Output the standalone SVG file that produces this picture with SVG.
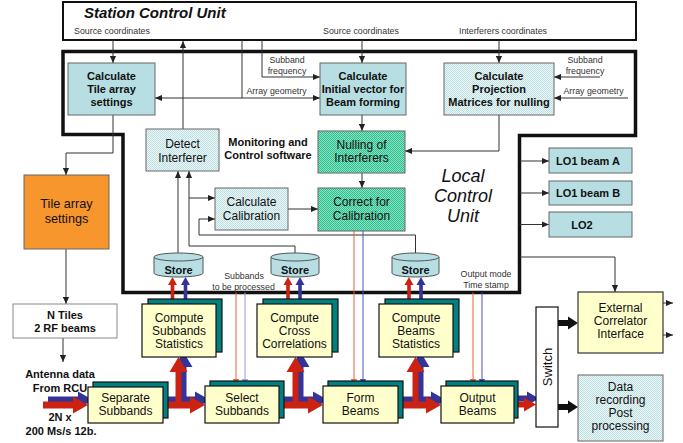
<svg xmlns="http://www.w3.org/2000/svg" xmlns:xlink="http://www.w3.org/1999/xlink" width="683" height="443" viewBox="0 0 683 443">
<style>
text{font-family:"Liberation Sans",Arial,sans-serif;fill:#111}
.b{font-size:11px;font-weight:bold;text-anchor:middle}
.r{font-size:12px;text-anchor:middle}
.s{font-size:8.8px;fill:#333;text-anchor:middle}
.ln{fill:none;stroke:#333;stroke-width:1}
.plain{fill:#b7dee2;stroke:#666;stroke-width:1}
.tex{fill:url(#tx);stroke:#666;stroke-width:1}
.grn{fill:url(#gx);stroke:#666;stroke-width:1}
.front{fill:#ffffcc;stroke:#111;stroke-width:1.2}
.back{fill:#008080;stroke:#111;stroke-width:1.2}
</style>
<defs>
<pattern id="tx" width="2" height="2" patternUnits="userSpaceOnUse"><rect width="2" height="2" fill="#eef7f8"/><rect width="1" height="1" fill="#bcdfe2"/><rect x="1" y="1" width="1" height="1" fill="#bcdfe2"/></pattern>
<pattern id="gx" width="2" height="2" patternUnits="userSpaceOnUse"><rect width="2" height="2" fill="#8ee2c4"/><rect width="1" height="1" fill="#2cbf8e"/><rect x="1" y="1" width="1" height="1" fill="#2cbf8e"/></pattern>
<marker id="ah" viewBox="0 0 8 8" refX="8" refY="4" markerWidth="7" markerHeight="7" markerUnits="userSpaceOnUse" orient="auto-start-reverse"><path d="M0,0.5 L8,4 L0,7.5z" fill="#222"/></marker>
<marker id="ahr" viewBox="0 0 8 8" refX="8" refY="4" markerWidth="7" markerHeight="7" markerUnits="userSpaceOnUse" orient="auto"><path d="M0,0.5 L8,4 L0,7.5z" fill="#f0603c"/></marker>
<marker id="ahb" viewBox="0 0 8 8" refX="8" refY="4" markerWidth="7" markerHeight="7" markerUnits="userSpaceOnUse" orient="auto"><path d="M0,0.5 L8,4 L0,7.5z" fill="#5050c0"/></marker>
<marker id="ahl" viewBox="0 0 8 8" refX="8" refY="4" markerWidth="7" markerHeight="7" markerUnits="userSpaceOnUse" orient="auto"><path d="M0,0.5 L8,4 L0,7.5z" fill="#9a9ade"/></marker>
<path id="upA" d="M-1.8,27 V8 H-4.5 L0,0 L4.5,8 H1.8 V27Z"/>
<g id="pipe">
<polygon points="43,401.5 73,401.5 73,396.5 88,405 73,413.5 73,408.5 43,408.5"/>
<polygon points="163,401.5 190,401.5 190,396.5 205,405 190,413.5 190,408.5 163,408.5"/>
<polygon points="175.5,405 175.5,372 169.5,372 178.5,357 187.5,372 181.5,372 181.5,405"/>
<polygon points="279,401.5 308,401.5 308,396.5 323,405 308,413.5 308,408.5 279,408.5"/>
<polygon points="292.5,405 292.5,372 286.5,372 295.5,357 304.5,372 298.5,372 298.5,405"/>
<polygon points="398,401.5 426,401.5 426,396.5 441,405 426,413.5 426,408.5 398,408.5"/>
<polygon points="412.5,405 412.5,372 406.5,372 415.5,357 424.5,372 418.5,372 418.5,405"/>
</g>
<polygon id="pipe5" points="514,401.5 524,401.5 524,397.5 536,404.5 524,411.5 524,407.5 514,407.5"/>
</defs>
<rect width="683" height="443" fill="#fff"/>

<g id="station-control-unit">
<rect x="63" y="2" width="573" height="38" fill="#fff" stroke="#111" stroke-width="2"/>
<text x="84" y="18" style="font-size:15px;font-weight:bold;font-style:italic">Station Control Unit</text>
<text class="s" x="112" y="34">Source coordinates</text>
<text class="s" x="361" y="34">Source coordinates</text>
<text class="s" x="503" y="34">Interferers coordinates</text>
</g>

<g id="local-control-unit">
<polygon points="63,51.5 635.5,51.5 635.5,135.5 519.5,135.5 519.5,292.5 123,292.5 123,134.5 63,134.5" fill="none" stroke="#111" stroke-width="3.5"/>
<text x="463" y="182" style="font-size:18px;font-style:italic;text-anchor:middle">Local</text>
<text x="463" y="202" style="font-size:18px;font-style:italic;text-anchor:middle">Control</text>
<text x="463" y="222" style="font-size:18px;font-style:italic;text-anchor:middle">Unit</text>
<text class="b" x="268" y="145.5">Monitoring and</text>
<text class="b" x="268" y="159">Control software</text>
</g>

<g id="connectors">
<path class="ln" d="M113,40 V63" marker-end="url(#ah)"/>
<path class="ln" d="M183,129 V41" marker-end="url(#ah)"/>
<path class="ln" d="M242,40 V98"/>
<path class="ln" d="M155,98 H320" marker-start="url(#ah)" marker-end="url(#ah)"/>
<path class="ln" d="M262,40 V77 H320" marker-end="url(#ah)"/>
<path class="ln" d="M362,40 V63" marker-end="url(#ah)"/>
<path class="ln" d="M499,40 V63" marker-end="url(#ah)"/>
<path class="ln" d="M600,77 H554" marker-end="url(#ah)"/>
<path class="ln" d="M628,98 H554" marker-end="url(#ah)"/>
<path class="ln" d="M362,115 V131" marker-end="url(#ah)"/>
<path class="ln" d="M499,115 V151 H405" marker-end="url(#ah)"/>
<path class="ln" d="M362,173 V188" marker-end="url(#ah)"/>
<path class="ln" d="M113,115 V153 H66 V175" marker-end="url(#ah)"/>
<path class="ln" d="M66,249 V304" marker-end="url(#ah)"/>
<path class="ln" d="M63,338 V362" marker-end="url(#ah)"/>
<path class="ln" d="M178,253 V171" marker-end="url(#ah)"/>
<path class="ln" d="M295,253 V246 H189 V171" marker-end="url(#ah)"/>
<path class="ln" d="M189,198 H215" marker-end="url(#ah)"/>
<path class="ln" d="M415.5,253 V235 H199 V219 H215" marker-end="url(#ah)"/>
<path class="ln" d="M288,209 H318" marker-end="url(#ah)"/>
<path class="ln" d="M519.5,161 H549" marker-end="url(#ah)"/>
<path class="ln" d="M519.5,193 H549" marker-end="url(#ah)"/>
<path class="ln" d="M519.5,224.5 H549" marker-end="url(#ah)"/>
<path class="ln" d="M519.5,257 H615 V292" marker-end="url(#ah)"/>
<path class="ln" d="M663,303 H673" marker-end="url(#ah)"/>
<path class="ln" d="M663,335 H673" marker-end="url(#ah)"/>
<path d="M236,292.5 V386" fill="none" stroke="#f0603c" marker-end="url(#ahr)"/>
<path d="M245,292.5 V386" fill="none" stroke="#9a9ade" marker-end="url(#ahl)"/>
<path d="M354,231 V386" fill="none" stroke="#f0603c" marker-end="url(#ahr)"/>
<path d="M363,231 V386" fill="none" stroke="#5050c0" marker-end="url(#ahb)"/>
<path d="M473,292.5 V386" fill="none" stroke="#f0603c" marker-end="url(#ahr)"/>
<path d="M482,292.5 V386" fill="none" stroke="#5050c0" marker-end="url(#ahb)"/>
<use xlink:href="#upA" x="172.5" y="277" fill="#cc2211"/>
<use xlink:href="#upA" x="185.5" y="277" fill="#333399"/>
<use xlink:href="#upA" x="288" y="277" fill="#cc2211"/>
<use xlink:href="#upA" x="300" y="277" fill="#333399"/>
<use xlink:href="#upA" x="409" y="277" fill="#cc2211"/>
<use xlink:href="#upA" x="421" y="277" fill="#333399"/>
<use xlink:href="#pipe" fill="#333399" transform="translate(5,-5)"/>
<use xlink:href="#pipe" fill="#cc2211"/>
<use xlink:href="#pipe5" fill="#333399" transform="translate(3,-6)"/>
<use xlink:href="#pipe5" fill="#cc2211"/>
<polygon points="558,320 568,320 568,316.5 578,323 568,329.5 568,326 558,326" fill="#111"/>
<polygon points="558,404 568,404 568,400.5 578,407 568,413.5 568,410 558,410" fill="#111"/>
<text class="s" x="287" y="63">Subband</text>
<text class="s" x="287" y="74">frequency</text>
<text class="s" x="276.5" y="94">Array geometry</text>
<text class="s" x="585" y="63">Subband</text>
<text class="s" x="585" y="74">frequency</text>
<text class="s" x="593.5" y="94">Array geometry</text>
<text class="s" x="244" y="279">Subbands</text>
<text class="s" x="243.5" y="290">to be processed</text>
<text class="s" x="486" y="277">Output mode</text>
<text class="s" x="486" y="288">Time stamp</text>
</g>

<g id="calc-tile-array">
<rect class="plain" x="68" y="63" width="87" height="52"/>
<text class="b" x="111.5" y="80">Calculate</text>
<text class="b" x="111.5" y="93">Tile array</text>
<text class="b" x="111.5" y="106">settings</text>
</g>
<g id="calc-initial-vector">
<rect class="plain" x="320" y="63" width="86" height="52"/>
<text class="b" x="363" y="80">Calculate</text>
<text class="b" x="363" y="93">Initial vector for</text>
<text class="b" x="363" y="106">Beam forming</text>
</g>
<g id="calc-projection">
<rect class="tex" x="444" y="63" width="110" height="52"/>
<text class="b" x="499" y="80">Calculate</text>
<text class="b" x="499" y="93">Projection</text>
<text class="b" x="499" y="106">Matrices for nulling</text>
</g>
<g id="detect-interferer">
<rect class="tex" x="146" y="129" width="73" height="42"/>
<text class="r" x="182.5" y="148">Detect</text>
<text class="r" x="182.5" y="161.5">Interferer</text>
</g>
<g id="nulling">
<rect class="grn" x="318" y="131" width="87" height="42"/>
<text class="r" x="361.5" y="148.5">Nulling of</text>
<text class="r" x="361.5" y="162">Interferers</text>
</g>
<g id="correct-calibration">
<rect class="grn" x="318" y="188" width="87" height="43"/>
<text class="r" x="361.5" y="206">Correct for</text>
<text class="r" x="361.5" y="220">Calibration</text>
</g>
<g id="calc-calibration">
<rect class="tex" x="215" y="188" width="73" height="42"/>
<text class="r" x="251.5" y="206">Calculate</text>
<text class="r" x="251.5" y="220">Calibration</text>
</g>
<g id="store-1">
<path d="M154,257 V273 A24.5,4 0 0 0 203,273 V257" fill="#b7dee2" stroke="#555"/>
<ellipse cx="178.5" cy="257" rx="24.5" ry="4" fill="#b7dee2" stroke="#555"/>
<text class="b" x="178.5" y="274">Store</text>
</g>
<g id="store-2">
<path d="M271,257 V273 A24,4 0 0 0 319,273 V257" fill="#b7dee2" stroke="#555"/>
<ellipse cx="295" cy="257" rx="24" ry="4" fill="#b7dee2" stroke="#555"/>
<text class="b" x="295" y="274">Store</text>
</g>
<g id="store-3">
<path d="M392,257 V273 A23.5,4 0 0 0 439,273 V257" fill="#b7dee2" stroke="#555"/>
<ellipse cx="415.5" cy="257" rx="23.5" ry="4" fill="#b7dee2" stroke="#555"/>
<text class="b" x="415.5" y="274">Store</text>
</g>
<g id="lo1-beam-a">
<rect class="plain" x="549" y="148" width="83" height="25"/>
<text class="b" x="588" y="165">LO1 beam A</text>
</g>
<g id="lo1-beam-b">
<rect class="plain" x="549" y="181" width="83" height="24"/>
<text class="b" x="588" y="197">LO1 beam B</text>
</g>
<g id="lo2">
<rect class="plain" x="549" y="212" width="83" height="25"/>
<text class="b" x="582" y="228.5">LO2</text>
</g>
<g id="tile-array-settings">
<rect x="24" y="175" width="85" height="74" fill="#f7962d" stroke="#666"/>
<text x="66.5" y="208" style="font-size:12.7px;text-anchor:middle">Tile array</text>
<text x="66.5" y="223" style="font-size:12.7px;text-anchor:middle">settings</text>
</g>
<g id="n-tiles">
<rect x="13" y="304" width="104" height="34" fill="#fff" stroke="#888"/>
<text class="b" x="65" y="319">N Tiles</text>
<text class="b" x="65" y="332">2 RF beams</text>
</g>
<g id="antenna-data">
<text class="b" x="60" y="378">Antenna data</text>
<text class="b" x="60" y="392">From RCU</text>
<text class="b" x="60" y="421">2N x</text>
<text class="b" x="61" y="435">200 Ms/s 12b.</text>
</g>
<g id="compute-subbands-statistics">
<rect class="back" x="148" y="299" width="74" height="53"/>
<rect class="front" x="142" y="304" width="74" height="53"/>
<text class="r" x="179" y="322">Compute</text>
<text class="r" x="179" y="335">Subbands</text>
<text class="r" x="179" y="348">Statistics</text>
</g>
<g id="compute-cross-correlations">
<rect class="back" x="263" y="299" width="75" height="53"/>
<rect class="front" x="257" y="304" width="75" height="53"/>
<text class="r" x="294.5" y="322">Compute</text>
<text class="r" x="294.5" y="335">Cross</text>
<text class="r" x="294.5" y="348">Correlations</text>
</g>
<g id="compute-beams-statistics">
<rect class="back" x="385" y="299" width="74" height="53"/>
<rect class="front" x="379" y="304" width="74" height="53"/>
<text class="r" x="416" y="322">Compute</text>
<text class="r" x="416" y="335">Beams</text>
<text class="r" x="416" y="348">Statistics</text>
</g>
<g id="separate-subbands">
<rect class="back" x="93" y="382" width="75" height="36"/>
<rect class="front" x="88" y="387" width="75" height="36"/>
<text class="r" x="125.5" y="402">Separate</text>
<text class="r" x="125.5" y="415">Subbands</text>
</g>
<g id="select-subbands">
<rect class="back" x="210" y="381" width="74" height="37"/>
<rect class="front" x="205" y="386" width="74" height="37"/>
<text class="r" x="242" y="402">Select</text>
<text class="r" x="242" y="415">Subbands</text>
</g>
<g id="form-beams">
<rect class="back" x="328" y="381" width="75" height="37"/>
<rect class="front" x="323" y="386" width="75" height="37"/>
<text class="r" x="360.5" y="402">Form</text>
<text class="r" x="360.5" y="415">Beams</text>
</g>
<g id="output-beams">
<rect class="back" x="446" y="381" width="72" height="37"/>
<rect class="front" x="441" y="386" width="73" height="37"/>
<text class="r" x="477.5" y="402">Output</text>
<text class="r" x="477.5" y="415">Beams</text>
</g>
<g id="switch">
<rect x="536" y="307" width="22" height="120" fill="#fff" stroke="#111" stroke-width="1.2"/>
<text x="547" y="371.5" transform="rotate(-90 547 367)" style="font-size:13px;text-anchor:middle">Switch</text>
</g>
<g id="external-correlator">
<rect x="578" y="292" width="85" height="61" fill="#ffffcc" stroke="#333" stroke-width="1.2"/>
<text class="r" x="620.5" y="312">External</text>
<text class="r" x="620.5" y="325">Correlator</text>
<text class="r" x="620.5" y="338">Interface</text>
</g>
<g id="data-recording">
<rect class="tex" x="578" y="375" width="85" height="66"/>
<text class="r" x="620.5" y="391">Data</text>
<text class="r" x="620.5" y="404">recording</text>
<text class="r" x="620.5" y="417">Post</text>
<text class="r" x="620.5" y="430">processing</text>
</g>
</svg>
